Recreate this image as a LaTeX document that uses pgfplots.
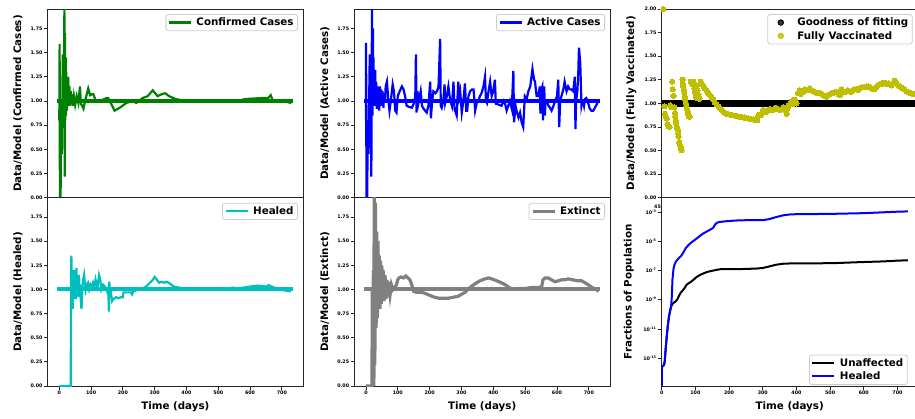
\documentclass[border=0pt]{standalone}
\usepackage{pgfplots}
\pgfplotsset{compat=1.18}
\usepackage{fontspec}
\setmainfont{DejaVu Sans}
\definecolor{mgreen}{HTML}{008000}
\definecolor{mblue}{HTML}{0000FF}
\definecolor{mcyan}{HTML}{00BFBF}
\definecolor{mgray}{HTML}{808080}
\definecolor{myellow}{HTML}{BFBF00}
\pgfplotsset{
  base/.style={
    scale only axis, anchor=north west,
    axis line style={black!85, line width=0.8bp},
    every tick/.style={black!85, line width=0.8bp},
    tick align=outside, tick pos=left, major tick length=3.5bp,
    ticklabel style={font=\bfseries\fontsize{4.8bp}{5.5bp}\selectfont, inner sep=1.5bp},
    /pgf/number format/assume math mode=true,
    label style={font=\bfseries\fontsize{10.3bp}{12bp}\selectfont, inner sep=0pt},
    xlabel style={at={(axis description cs:0.5,0)}, anchor=north, yshift=-15.7bp},
    legend style={at={(axis description cs:1,1)}, xshift=-5bp, yshift=-5bp, anchor=north east,
      draw=black!20, line width=0.8bp, rounded corners=2.5bp, fill=white, fill opacity=0.8,
      text opacity=1, draw opacity=1,
      font=\bfseries\fontsize{10.3bp}{12bp}\selectfont, inner xsep=2bp, inner ysep=1.5bp, row sep=0pt,
      nodes={inner sep=2bp}},
    legend cell align=left,
    legend image code/.code={\draw[##1] (0bp,0bp) -- (22bp,0bp); \path[draw=none] (0bp,0bp) -- (25.5bp,0bp);},
  },
  ratio/.style={base, ymin=0, ymax=1.95, ytick={0,0.25,...,1.75},
    yticklabel style={/pgf/number format/.cd, fixed, fixed zerofill, precision=2},
    xmin=-36.5, xmax=766.5, xtick={0,100,...,700}},
  toprow/.style={xtick=\empty},
}
\begin{document}
\begin{tikzpicture}[x=1bp,y=1bp]
% ---------- top left ----------
\begin{axis}[ratio, toprow, at={(47.7bp,-9bp)}, width=255.3bp, height=188.8bp,
  ylabel={Data/Model (Confirmed Cases)}, ylabel style={at={(axis description cs:-0.1163,0.5)}, anchor=center}]
\addplot[mgreen, line width=2.2bp] coordinates {
(0,0.80)(1,1.59)(1.5,0.5)(2,0.0)(4,0.0)(5,0.45)(7,0.78)(8,0.45)(11,1.48)(12,0.72)(14,0.95)(16,1.95)(17,0.22)
(18,1.7)(19,0.8)(20,1.45)(21,0.85)(22,1.3)(24,0.9)(25,1.2)(27,0.95)(28,1.25)(30,0.97)(32,1.15)(34,0.95)(36,1.1)
(38,0.97)(40,1.07)(43,0.95)(46,1.05)(50,0.96)(55,1.05)(60,0.98)(65,1.15)(68,0.97)(72,0.95)(76,0.92)(81,1.0)
(91,1.13)(97,1.06)(102,1.07)(107,1.07)(115,1.0)(128,1.0)(148,1.03)(154,1.03)(162,0.98)(174,0.9)(190,0.93)
(211,0.98)(231,1.0)(242,0.98)(262,1.03)(278,1.05)(294,1.11)(309,1.05)(322,1.07)(333,1.08)(345,1.05)(366,1.02)
(397,1.0)(563,1.0)(584,1.02)(636,1.03)(657,1.03)(665,1.06)(672,1.0)(700,1.0)(730,0.98)};
\addlegendentry{Confirmed Cases}
\addplot[mgreen, line width=4bp, line cap=rect, forget plot] coordinates {(0,1)(730,1)};
\end{axis}
% ---------- top middle ----------
\begin{axis}[ratio, toprow, at={(354.3bp,-9bp)}, width=255.7bp, height=188.8bp,
  ylabel={Data/Model (Active Cases)}, ylabel style={at={(axis description cs:-0.1146,0.5)}, anchor=center}]
\addplot[mblue, line width=2.2bp] coordinates {
(0,0.8)(0.5,1.6)(1,0.8)(2,0)(4,0)(5,0.45)(7,0.8)(8,0.45)(12,1.48)(13,0.7)(15,1.0)(17,0.22)(19,1.95)(20,1.4)
(21,0.85)(22,1.75)(23,1.1)(24,1.45)(25,0.95)(26,1.3)(27,1.05)(29,1.32)(30,0.95)(32,1.2)(34,0.92)(36,1.15)
(38,0.97)(40,1.12)(42,0.9)(44,1.15)(46,1.0)(48,1.12)(50,0.95)(52,1.1)(55,0.93)(57,1.08)(60,1.0)(62,1.15)
(66,1.2)(70,1.02)(74,0.9)(78,1.0)(84,1.17)(88,1.1)(92,0.9)(96,0.88)(100,1.05)(106,1.1)(113,1.15)(118,1.12)
(123,1.05)(128,0.95)(135,0.94)(144,0.93)(150,0.97)(155,1.05)(157,1.48)(159,0.88)(162,1.1)(165,0.98)(168,1.03)
(172,1.1)(176,0.95)(181,0.92)(186,0.9)(191,0.88)(196,0.95)(202,1.2)(204,0.82)(208,1.0)(212,1.1)(218,1.08)
(223,1.1)(228,1.15)(233,1.64)(235,0.95)(238,0.93)(243,1.0)(247,1.17)(249,0.98)(254,1.05)(259,1.15)(264,1.02)
(270,0.95)(275,1.2)(278,0.92)(280,0.9)(285,0.85)(290,1.2)(293,1.05)(296,1.1)(301,0.88)(306,1.0)(311,1.18)
(315,0.9)(318,0.9)(322,1.05)(327,1.1)(333,1.12)(338,1.12)(343,0.9)(348,0.98)(353,1.0)(358,1.05)(363,1.08)
(369,1.15)(374,1.25)(377,1.0)(380,0.98)(385,1.1)(390,1.2)(395,1.05)(400,1.1)(405,1.22)(408,0.97)(411,0.97)
(418,0.96)(426,0.95)(432,1.0)(437,0.97)(442,0.9)(447,0.95)(452,1.0)(458,0.92)(463,1.31)(465,0.78)(470,0.95)
(473,0.9)(479,0.83)(484,0.88)(489,0.78)(494,0.73)(499,1.05)(505,1.02)(510,1.1)(516,1.15)(523,1.33)(528,1.22)
(531,1.2)(536,1.05)(541,1.05)(546,1.15)(548,0.87)(551,1.12)(554,1.15)(556,0.8)(558,1.1)(560,1.15)(562,0.85)
(564,1.0)(568,1.0)(573,0.95)(578,0.93)(583,0.9)(589,0.95)(594,1.0)(600,1.05)(604,1.22)(607,0.73)(610,1.0)
(614,1.05)(620,1.12)(624,1.2)(627,1.15)(630,1.1)(635,1.15)(640,1.12)(645,1.12)(651,1.1)(656,1.25)(658,0.71)
(660,1.0)(664,1.1)(667,1.3)(669,1.55)(673,1.4)(677,0.95)(680,1.0)(682,1.0)(685,0.95)(688,1.02)(692,1.03)
(696,1.0)(703,0.92)(708,0.9)(714,0.9)(719,0.93)(724,0.96)(730,1.0)};
\addlegendentry{Active Cases}
\addplot[mblue, line width=4bp, line cap=rect, forget plot] coordinates {(0,1)(730,1)};
\end{axis}
% ---------- top right ----------
\begin{axis}[base, toprow, at={(661.7bp,-9bp)}, width=256bp, height=188.8bp,
  xmin=0, xmax=760, ymin=0, ymax=2, ytick={0,0.25,...,2},
  yticklabel style={/pgf/number format/.cd, fixed, fixed zerofill, precision=2},
  ylabel={Data/Model (Fully Vaccinated)}, ylabel style={at={(axis description cs:-0.1188,0.5)}, anchor=center}]
\addplot[black, line width=7bp, line cap=round, forget plot] coordinates {(1,1)(765,1)};
\addlegendimage{black, legend image code/.code={\fill[black] (11bp,0bp) circle[radius=2.8bp]; \path[draw=none] (0bp,0bp) -- (25.5bp,0bp);}}
\addlegendentry{Goodness of fitting}
\addplot[only marks, mark=*, mark size=2.6bp, color=myellow, mark options={fill=myellow, draw=myellow, line width=0pt},
  legend image code/.code={\fill[myellow] (11bp,0bp) circle[radius=2.7bp]; \path[draw=none] (0bp,0bp) -- (25.5bp,0bp);}] coordinates {
(5,2.0)(8,0.97)(10,0.89)(12,0.86)(15,0.84)(17,0.78)(20,0.76)(23,0.75)(25,0.98)(28,0.97)(30,0.96)(31,1.23)(33,1.15)
(35,1.08)(37,0.96)(39,0.9)(40,0.86)(42,0.82)(43,0.79)(45,0.75)(47,0.72)(49,0.68)(50,0.65)(52,0.59)(54,0.56)
(56,0.54)(58,0.52)(59,0.505)
(62,1.25)(63,1.21)(64,1.18)(66,1.14)(67,1.11)(69,1.07)(70,1.04)(72,1.0)(73,0.97)(75,0.94)(77,0.91)(79,0.88)(81,0.86)(83,0.86)
(86,1.23)(88,1.22)(90,1.23)(92,1.2)(94,1.23)(96,1.2)(97,1.16)(99,1.12)(101,1.09)(103,1.06)(104,1.19)(106,1.14)(109,1.09)(112,1.05)
(116,1.23)(120,1.2)(124,1.18)(128,1.16)(133,1.14)(138,1.11)(143,1.09)(148,1.06)(153,1.04)(158,1.01)(163,0.99)
(168,0.97)(173,0.95)(178,0.93)(183,0.91)(188,0.9)(193,0.89)(198,0.885)(203,0.88)(210,0.875)(217,0.87)(224,0.865)
(231,0.86)(238,0.855)(245,0.85)(252,0.845)(259,0.84)(266,0.835)(273,0.83)(280,0.825)(284,0.82)
(287,0.87)(291,0.88)(296,0.88)(298,0.9)(301,0.93)(305,0.92)(311,0.91)(316,0.93)(321,0.94)(326,0.93)(331,0.93)
(336,0.95)(341,0.95)(346,0.94)(351,0.93)(356,0.94)(361,0.96)(366,0.93)(371,0.89)(374,0.95)(376,0.98)(381,1.0)
(386,1.02)(390,0.99)(395,1.04)(400,1.0)
(405,1.11)(408,1.12)(410,1.14)(413,1.1)(415,1.12)(420,1.12)(425,1.15)(430,1.14)(435,1.15)(440,1.16)(445,1.14)
(450,1.13)(455,1.12)(460,1.11)(465,1.11)(470,1.11)(475,1.1)(479,1.09)(484,1.08)(489,1.07)(494,1.09)(499,1.10)
(504,1.11)(509,1.11)(514,1.12)(519,1.12)(524,1.1)(529,1.09)(534,1.15)(538,1.13)(543,1.12)(548,1.13)(553,1.14)
(558,1.13)(563,1.12)(568,1.14)(573,1.15)(578,1.15)(583,1.14)(588,1.16)(593,1.17)(598,1.17)(603,1.17)(608,1.18)
(613,1.18)(618,1.17)(622,1.16)(627,1.15)(632,1.15)(637,1.17)(642,1.19)(647,1.2)(652,1.21)(657,1.21)(662,1.22)
(667,1.21)(672,1.21)(677,1.2)(682,1.19)(687,1.21)(692,1.24)(697,1.21)(702,1.19)(707,1.18)(712,1.17)(716,1.16)
(721,1.15)(726,1.13)(731,1.12)(736,1.11)(741,1.11)(746,1.1)(751,1.1)(756,1.09)};
\addlegendentry{Fully Vaccinated}
\end{axis}
% ---------- bottom left ----------
\begin{axis}[ratio, at={(47.7bp,-197.8bp)}, width=255.3bp, height=188.2bp,
  xlabel={Time (days)},
  ylabel={Data/Model (Healed)}, ylabel style={at={(axis description cs:-0.1163,0.5)}, anchor=center}]
\addplot[mcyan, line width=2.2bp] coordinates {
(0,0)(36,0)(37,1.18)(38,1.35)(39,0.85)(40,1.05)(42,0.8)(43,1.15)(45,0.9)(46,1.2)(48,0.95)(50,1.1)(52,0.9)
(54,1.22)(56,0.95)(58,1.1)(60,0.92)(62,1.15)(64,0.95)(66,1.05)(68,0.85)(70,0.8)(72,1.0)(75,1.1)(78,1.15)
(80,1.08)(83,1.0)(86,1.05)(90,1.07)(94,1.0)(98,1.05)(102,1.02)(106,1.07)(110,1.03)(114,1.1)(117,1.05)(120,1.02)
(125,1.15)(129,1.1)(132,1.0)(138,1.05)(145,1.02)(150,0.98)(154,1.02)(156,0.77)(157,1.08)(159,1.0)(162,0.98)
(166,0.88)(170,0.9)(178,0.92)(186,0.91)(194,0.92)(200,0.92)(202,0.97)(210,0.97)(225,0.97)(229,0.95)(232,0.98)
(240,0.99)(255,1.0)(273,1.03)(285,1.07)(294,1.1)(300,1.13)(307,1.1)(314,1.07)(322,1.08)(330,1.07)(338,1.08)
(348,1.06)(360,1.03)(377,1.02)(390,1.0)(450,1.0)(540,1.0)(544,1.02)(560,1.01)(600,1.03)(625,1.04)(640,1.035)
(652,1.03)(658,1.045)(668,1.03)(690,1.0)(710,0.99)(728,0.98)};
\addlegendentry{Healed}
\addplot[mcyan, line width=4bp, line cap=rect, forget plot] coordinates {(0,1)(730,1)};
\end{axis}
% ---------- bottom middle ----------
\begin{axis}[ratio, at={(354.3bp,-197.8bp)}, width=255.7bp, height=188.2bp,
  xlabel={Time (days)},
  ylabel={Data/Model (Extinct)}, ylabel style={at={(axis description cs:-0.1146,0.5)}, anchor=center}]
\addplot[mgray!70, line width=1bp, forget plot] coordinates {
(18,0)(20,1.2)(22,0.5)(25,1.6)(28,0.6)(31,1.45)(34,0.75)(38,1.3)(42,0.85)(46,1.2)(50,0.9)(55,1.12)(60,0.92)(66,1.08)(72,0.95)};
\addplot[mgray, line width=3.2bp] coordinates {
(0,0)(19,0)(20,1.0)(22,0.3)(24,1.2)(25,0.0)(26,2.2)(28,0.22)(30,1.9)(32,0.6)(34,1.6)(36,0.7)(38,1.5)(40,0.8)
(42,1.35)(44,0.8)(46,1.3)(48,0.85)(50,1.25)(52,0.9)(54,1.2)(57,0.88)(60,1.15)(63,0.9)(66,1.1)(69,0.92)(72,1.08)
(76,0.95)(80,1.05)(85,1.0)(90,1.02)(96,1.05)(100,1.1)(104,1.12)(110,1.13)(118,1.12)(125,1.14)(132,1.12)(138,1.1)
(144,1.05)(150,0.98)(160,0.97)(175,0.97)(186,0.96)(200,0.94)(215,0.92)(228,0.91)(245,0.91)(260,0.91)(275,0.92)
(290,0.93)(300,0.95)(311,0.97)(320,1.0)(330,1.03)(343,1.06)(358,1.09)(374,1.11)(385,1.12)(395,1.11)(411,1.09)
(425,1.07)(437,1.05)(450,1.02)(463,1.0)(480,1.01)(500,1.01)(520,1.02)(541,1.02)(552,1.03)(556,1.1)(562,1.12)
(572,1.12)(583,1.1)(594,1.08)(604,1.09)(614,1.1)(625,1.1)(635,1.11)(650,1.1)(665,1.09)(677,1.09)(688,1.07)
(698,1.05)(710,1.02)(724,1.0)(730,0.98)};
\addlegendentry{Extinct}
\addplot[mgray, line width=4bp, line cap=rect, forget plot] coordinates {(0,1)(730,1)};
\end{axis}
% ---------- bottom right ----------
\begin{axis}[base, at={(661.7bp,-197.8bp)}, width=256bp, height=188.2bp,
  xmin=0, xmax=760, xtick={0,100,...,700},
  ymode=log, ymin=1.26e-15, ymax=9.33e-3,
  ytick={1e-13,1e-11,1e-9,1e-7,1e-5,1e-3}, minor ytick={},
  log number format basis/.code 2 args={\textbf{#1}\textsuperscript{\pgfmathprintnumber{#2}}},
  xlabel={Time (days)},
  ylabel={Fractions of Population}, ylabel style={at={(axis description cs:-0.1285,0.5)}, anchor=center},
  legend style={at={(axis description cs:1,0)}, xshift=-5bp, yshift=6bp, anchor=south east}]
\addplot[black, line width=2bp] coordinates {
(0,6.31e-16)(0.5,2.512e-14)(7,3.548e-14)(9,6.31e-14)(12,5.012e-13)(15,3.162e-12)(19,2.512e-11)(22,7.943e-11)
(25,1.778e-10)(28,3.548e-10)(32,5.012e-10)(36,6.31e-10)(42,7.943e-10)(47,1.122e-9)(52,1.995e-9)(57,3.162e-9)
(63,4.467e-9)(68,6.31e-9)(74,1.072e-8)(80,1.318e-8)(89,1.820e-8)(96,2.512e-8)(104,3.631e-8)(114,5.012e-8)
(124,6.31e-8)(135,7.943e-8)(150,9.550e-8)(165,1.122e-7)(175,1.230e-7)(203,1.230e-7)(240,1.259e-7)(280,1.349e-7)
(300,1.479e-7)(320,1.905e-7)(341,2.512e-7)(360,2.884e-7)(380,3.020e-7)(440,3.020e-7)(519,3.236e-7)(588,3.715e-7)
(657,4.169e-7)(697,4.677e-7)(731,5.012e-7)};
\addlegendentry{Unaffected}
\addplot[mblue, line width=2bp] coordinates {
(0,6.31e-16)(0.5,2.512e-14)(7,3.548e-14)(9,6.31e-14)(12,5.012e-13)(15,3.162e-12)(19,2.512e-11)(22,7.943e-11)
(25,1.778e-10)(28,3.548e-10)(30,1.585e-9)(32,2.512e-8)(35,1.259e-7)(38,2.512e-7)(42,3.981e-7)(47,5.623e-7)
(53,7.943e-7)(58,1e-6)(62,1.413e-6)(67,2.239e-6)(72,3.548e-6)(80,5.623e-6)(90,8.913e-6)(100,1.318e-5)
(110,1.995e-5)(120,3.020e-5)(130,4.169e-5)(143,6.026e-5)(152,7.943e-5)(155,1e-4)(158,1.349e-4)(163,1.778e-4)
(170,2.042e-4)(180,2.188e-4)(193,2.344e-4)(210,2.512e-4)(232,2.692e-4)(260,2.754e-4)(300,2.754e-4)(320,3.311e-4)
(341,4.571e-4)(360,5.888e-4)(380,6.761e-4)(400,7.079e-4)(450,7.244e-4)(500,7.413e-4)(540,7.762e-4)(600,8.318e-4)
(640,9.120e-4)(680,1e-3)(700,1.047e-3)(731,1.096e-3)};
\addlegendentry{Healed}
\end{axis}
\node[font=\bfseries\fontsize{4.8bp}{5.5bp}\selectfont, inner sep=0pt] at (657.5bp,-206.5bp) {45};
\pgfresetboundingbox
\useasboundingbox (0,0) rectangle (915bp,-419bp);
\end{tikzpicture}
\end{document}
